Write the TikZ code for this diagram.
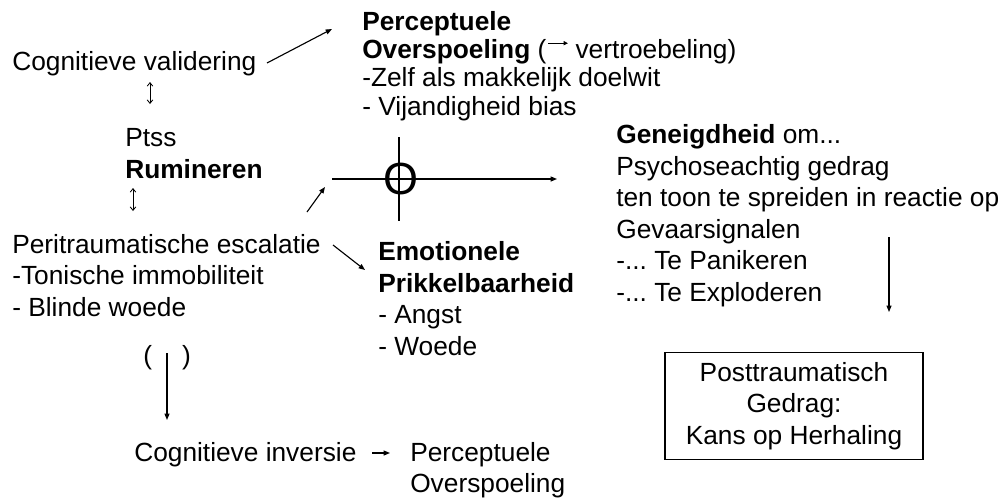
\documentclass[tikz,border=0pt]{standalone}
\usepackage{fontspec}
\setmainfont{Liberation Sans}
\usetikzlibrary{arrows.meta}
\frenchspacing

\tikzset{
  txt/.style={anchor=base west, inner sep=0pt, align=left,
    font=\fontsize{18.7}{22.4}\selectfont},
  toptxt/.style={txt, font=\fontsize{18.7}{20.1}\selectfont},
  arr/.style={line width=0.8pt, -{Triangle[length=4.5pt,width=3.5pt]}},
  dblarr/.style={line width=0.6pt,
    {Straight Barb[length=2.5pt,width=4pt]}-{Straight Barb[length=2.5pt,width=4pt]}}
}
\newcommand{\tinyarrow}{\kern1pt\raisebox{0.5em}{\tikz\draw[line width=0.5pt,-{Triangle[length=3pt,width=3pt]}] (0,0) -- (0.75em,0);}}

\begin{document}
\begin{tikzpicture}[x=0.025cm, y=-0.025cm]
  \useasboundingbox (0,0) rectangle (1004,501);

  % Left column (nodes placed at the baseline of their last line)
  \node[txt] (valid) at (12,70) {Cognitieve validering};
  \node[txt] (ptss) at (125,178) {Ptss\\\textbf{Rumineren}};
  \node[txt] (escal) at (12,316) {Peritraumatische escalatie\\-Tonische immobiliteit\\- Blinde woede};

  % Top block
  \node[toptxt] (overspoel) at (362,115) {\textbf{Perceptuele}\\\textbf{Overspoeling} (\tinyarrow\ vertroebeling)\\-Zelf als makkelijk doelwit\\- Vijandigheid bias};

  % Middle
  \node[txt] (emo) at (378,355) {\textbf{Emotionele}\\\textbf{Prikkelbaarheid}\\- Angst\\- Woede};

  % Right column
  \node[txt] (geneigd) at (616,301) {\textbf{Geneigdheid} om...\\Psychoseachtig gedrag\\ten toon te spreiden in reactie op\\Gevaarsignalen\\-... Te Panikeren\\-... Te Exploderen};
  \node[draw, line width=0.8pt, inner sep=0pt, minimum width=6.45cm, minimum height=2.675cm,
    align=center, font=\fontsize{18.7}{22.4}\selectfont] (gedrag) at (794,406)
    {Posttraumatisch\\Gedrag:\\Kans op Herhaling};

  % Bottom
  \node[txt] (paren) at (143,364) {(\hspace{0.75cm})};
  \node[txt] (invers) at (134,461) {Cognitieve inversie};
  \node[txt] (overspoel2) at (410,492.5) {Perceptuele\\Overspoeling};

  % Crosshair
  \coordinate (hl) at (332,179);
  \coordinate (hr) at (557,179);
  \coordinate (vt) at (399,137);
  \coordinate (vb) at (399,221);
  \draw[arr] (hl) -- (hr);
  \draw[line width=0.8pt] (vt) -- (vb);
  \node[inner sep=0pt, font=\fontsize{32}{32}\selectfont] (nul) at (401,179) {O};

  % Arrows
  \coordinate (a1) at (267,63);  \coordinate (a2) at (332,29);
  \draw[arr] (a1) -- (a2);
  \coordinate (d1) at (150,82);  \coordinate (d2) at (150,104);
  \draw[dblarr] (d1) -- (d2);
  \coordinate (d3) at (133,188); \coordinate (d4) at (133,211);
  \draw[dblarr] (d3) -- (d4);
  \coordinate (b1) at (307,212); \coordinate (b2) at (325,187);
  \draw[arr] (b1) -- (b2);
  \coordinate (c1) at (333,245); \coordinate (c2) at (365,270);
  \draw[arr] (c1) -- (c2);
  \coordinate (e1) at (889,237); \coordinate (e2) at (889,312);
  \draw[arr] (e1) -- (e2);
  \coordinate (p1) at (167,353); \coordinate (p2) at (167,420);
  \draw[arr] (p1) -- (p2);
  \coordinate (i1) at (372,453); \coordinate (i2) at (390,453);
  \draw[arr] (i1) -- (i2);
\end{tikzpicture}
\end{document}
